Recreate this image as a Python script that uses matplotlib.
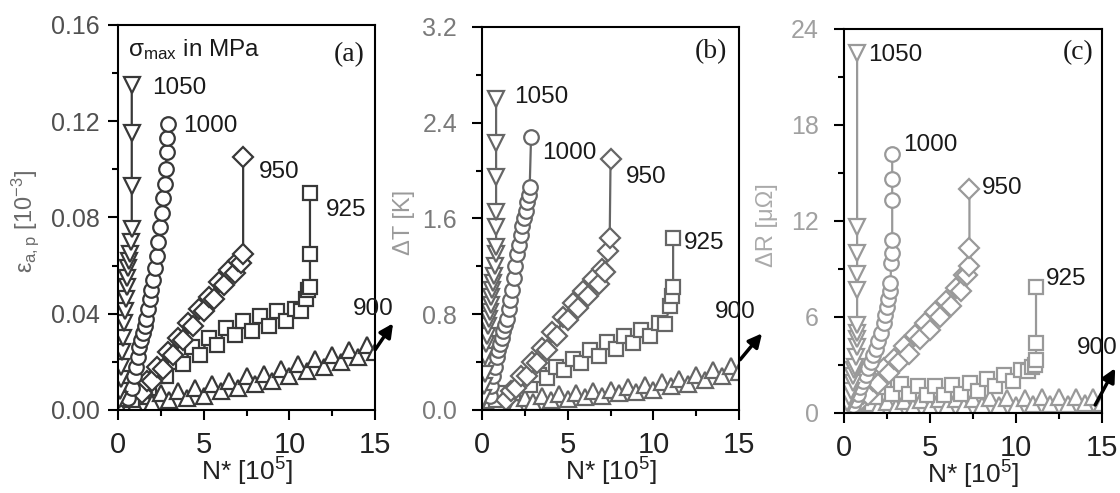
import matplotlib
matplotlib.use("Agg")
import matplotlib.pyplot as plt
from matplotlib.ticker import MultipleLocator, FormatStrFormatter

plt.rcParams['font.family'] = ['Liberation Sans', 'DejaVu Sans']
plt.rcParams['mathtext.fontset'] = 'custom'
plt.rcParams['mathtext.rm'] = 'Liberation Sans'
plt.rcParams['mathtext.it'] = 'Liberation Sans:italic'

# 公共的 900 MPa 载荷循环 N* [10^5]
n_900 = [0.0, 0.5, 1.0, 1.5, 2.0, 2.5, 3.0, 3.5, 4.0, 4.5, 5.0, 5.5, 6.0, 6.5, 7.0, 7.5,
         8.0, 8.5, 9.0, 9.5, 10.0, 10.5, 11.0, 11.5, 12.0, 12.5, 13.0, 13.5, 14.0, 14.5, 15.0, 15.5]

# (a) 塑性应变幅 eps_a,p [10^-3]
n1050_a = [0.05, 0.1, 0.15, 0.2, 0.25, 0.3, 0.35, 0.4, 0.45, 0.5, 0.55, 0.6, 0.65, 0.7, 0.75, 0.8, 0.8, 0.8, 0.8]
e1050_a = [0.004, 0.008, 0.013, 0.018, 0.024, 0.030, 0.036, 0.041, 0.046, 0.051, 0.055, 0.059, 0.062, 0.065,
           0.070, 0.075, 0.093, 0.115, 0.135]
n1000_a = [0.6, 0.8, 0.95, 1.05, 1.15, 1.25, 1.35, 1.45, 1.55, 1.65, 1.75, 1.85, 1.95, 2.05, 2.15, 2.25, 2.35,
           2.45, 2.55, 2.65, 2.72, 2.78, 2.84, 2.88, 2.92]
e1000_a = [0.005, 0.009, 0.014, 0.018, 0.022, 0.026, 0.029, 0.032, 0.035, 0.038, 0.042, 0.046, 0.050, 0.054,
           0.059, 0.064, 0.070, 0.076, 0.082, 0.088, 0.094, 0.100, 0.107, 0.113, 0.119]
n950_a = [1.4, 1.7, 2.0, 2.3, 2.6, 2.9, 3.2, 3.5, 3.8, 4.1, 4.4, 4.7, 5.0, 5.3, 5.6, 5.9, 6.2, 6.5, 6.8, 7.0,
          7.15, 7.3, 7.3]
e950_a = [0.007, 0.012, 0.012, 0.018, 0.017, 0.024, 0.023, 0.030, 0.029, 0.036, 0.035, 0.042, 0.041, 0.047,
          0.046, 0.053, 0.052, 0.058, 0.057, 0.062, 0.061, 0.065, 0.105]
n925_a = [0.8, 1.3, 1.8, 2.3, 2.8, 3.3, 3.8, 4.3, 4.8, 5.3, 5.8, 6.3, 6.8, 7.3, 7.8, 8.3, 8.8, 9.3, 9.8, 10.3,
          10.7, 10.95, 11.1, 11.2, 11.2, 11.2]
e925_a = [0.004, 0.008, 0.009, 0.014, 0.014, 0.020, 0.019, 0.026, 0.023, 0.030, 0.027, 0.034, 0.031, 0.037,
          0.033, 0.039, 0.035, 0.041, 0.037, 0.042, 0.041, 0.046, 0.050, 0.051, 0.065, 0.090]
e900_a = [0.002, 0.005, 0.002, 0.006, 0.003, 0.007, 0.004, 0.008, 0.005, 0.009, 0.006, 0.011, 0.008, 0.012,
          0.009, 0.014, 0.011, 0.015, 0.012, 0.017, 0.014, 0.019, 0.016, 0.021, 0.018, 0.023, 0.020, 0.025,
          0.022, 0.027, 0.024, 0.029]

# (b) 温升 dT [K]
n1050_b = [0.05, 0.1, 0.15, 0.2, 0.25, 0.3, 0.35, 0.4, 0.45, 0.5, 0.55, 0.6, 0.65, 0.7, 0.75, 0.8,
           0.82, 0.82, 0.82, 0.82, 0.82, 0.82]
t1050_b = [0.10, 0.20, 0.30, 0.45, 0.55, 0.62, 0.70, 0.76, 0.82, 0.88, 0.94, 1.00, 1.06, 1.12, 1.20, 1.30,
           1.36, 1.53, 1.65, 1.95, 2.23, 2.60]
n1000_b = [0.45, 0.55, 0.65, 0.75, 0.85, 0.95, 1.05, 1.15, 1.25, 1.35, 1.45, 1.55, 1.65, 1.75, 1.85, 1.95,
           2.05, 2.15, 2.25, 2.35, 2.45, 2.55, 2.65, 2.72, 2.78, 2.86]
t1000_b = [0.12, 0.20, 0.28, 0.36, 0.44, 0.50, 0.55, 0.60, 0.66, 0.71, 0.76, 0.84, 0.92, 1.00, 1.10, 1.20,
           1.30, 1.38, 1.46, 1.54, 1.60, 1.66, 1.74, 1.80, 1.86, 2.28]
n950_b = [1.4, 1.7, 2.0, 2.3, 2.6, 2.9, 3.2, 3.5, 3.8, 4.1, 4.4, 4.7, 5.0, 5.3, 5.6, 5.9, 6.2, 6.5, 6.8, 7.0,
          7.2, 7.35, 7.45, 7.5]
t950_b = [0.08, 0.16, 0.18, 0.28, 0.28, 0.40, 0.39, 0.52, 0.50, 0.65, 0.62, 0.78, 0.75, 0.89, 0.85, 0.99,
          0.95, 1.09, 1.05, 1.18, 1.15, 1.33, 1.44, 2.10]
n925_b = [0.8, 1.3, 1.8, 2.3, 2.8, 3.3, 3.8, 4.3, 4.8, 5.3, 5.8, 6.3, 6.8, 7.3, 7.8, 8.3, 8.8, 9.3, 9.8, 10.3,
          10.7, 10.95, 11.1, 11.15, 11.15]
t925_b = [0.08, 0.14, 0.14, 0.22, 0.21, 0.29, 0.27, 0.36, 0.33, 0.43, 0.39, 0.50, 0.45, 0.57, 0.51, 0.62,
          0.56, 0.67, 0.62, 0.73, 0.72, 0.87, 0.95, 1.03, 1.44]
t900_b = [0.03, 0.08, 0.04, 0.09, 0.05, 0.10, 0.07, 0.12, 0.08, 0.13, 0.09, 0.14, 0.11, 0.16, 0.12, 0.17,
          0.14, 0.19, 0.15, 0.21, 0.17, 0.23, 0.20, 0.26, 0.22, 0.29, 0.25, 0.33, 0.28, 0.37, 0.32, 0.42]

# (c) 电阻变化 dR [uOhm]
n1050_c = [0.1, 0.2, 0.3, 0.4, 0.5, 0.55, 0.6, 0.65, 0.7, 0.73, 0.76, 0.76, 0.76, 0.76, 0.76, 0.76, 0.76, 0.76]
r1050_c = [0.3, 0.6, 1.0, 1.4, 1.9, 2.3, 2.7, 2.9, 3.5, 4.1, 4.6, 5.0, 5.5, 7.7, 8.7, 10.0, 11.6, 22.5]
n1000_c = [0.5, 0.65, 0.8, 0.95, 1.1, 1.25, 1.4, 1.55, 1.7, 1.85, 2.0, 2.15, 2.3, 2.4, 2.5, 2.58, 2.65, 2.7,
           2.74, 2.77, 2.8, 2.8, 2.8, 2.8]
r1000_c = [0.5, 0.8, 1.2, 1.6, 2.0, 2.4, 2.8, 3.2, 3.6, 4.0, 4.5, 5.0, 5.6, 6.1, 6.6, 7.1, 7.6, 8.1, 9.4,
           10.0, 10.8, 13.3, 14.6, 16.2]
n950_c = [0.8, 1.1, 1.4, 1.7, 2.0, 2.3, 2.6, 2.9, 3.2, 3.5, 3.8, 4.1, 4.4, 4.7, 5.0, 5.3, 5.6, 5.9, 6.2, 6.5,
          6.8, 7.0, 7.15, 7.25, 7.29, 7.29]
r950_c = [0.6, 1.2, 1.1, 2.0, 1.8, 2.8, 2.5, 3.4, 3.2, 4.2, 3.7, 4.9, 4.6, 5.6, 5.2, 6.3, 6.0, 7.0, 6.7, 7.8,
          7.6, 8.6, 8.6, 9.2, 10.3, 14.0]
n925_c = [0.8, 1.3, 1.8, 2.3, 2.8, 3.3, 3.8, 4.3, 4.8, 5.3, 5.8, 6.3, 6.8, 7.3, 7.8, 8.3, 8.8, 9.3, 9.8, 10.3,
          10.7, 10.95, 11.1, 11.16, 11.16, 11.16]
r925_c = [0.7, 1.2, 1.0, 1.6, 1.2, 1.8, 1.2, 1.7, 1.1, 1.7, 1.1, 1.75, 1.2, 1.9, 1.4, 2.1, 1.7, 2.4, 2.0, 2.7,
          2.6, 2.9, 3.0, 3.3, 4.4, 7.9]
r900_c = [0.2, 0.6, 0.25, 0.65, 0.3, 0.7, 0.35, 0.75, 0.4, 0.8, 0.4, 0.85, 0.45, 0.9, 0.45, 0.9, 0.5, 0.95,
          0.5, 0.95, 0.5, 0.95, 0.55, 1.0, 0.55, 1.0, 0.55, 1.0, 0.6, 1.0, 0.6, 1.0]

stress_labels = ['1050', '1000', '950', '925', '900']
markers = ['v', 'o', 'D', 's', '^']
marker_sizes = [12, 10.5, 10, 10, 11]

# 标签位置 (N*, y)
label_pos_a = [(1.97, 0.134), (3.77, 0.118), (8.2, 0.099), (12.1, 0.083), (13.7, 0.042)]
label_pos_b = [(1.87, 2.615), (3.48, 2.15), (8.4, 1.95), (11.75, 1.395), (13.6, 0.82)]
label_pos_c = [(1.40, 22.4), (3.43, 16.75), (8.0, 14.05), (11.74, 8.4), (13.53, 4.05)]

panels = [
    dict(pos=[0.1054, 0.1684, 0.2295, 0.781], color='#383838', tickc='#505050', labc='#6a6a6a',
         series=[(n1050_a, e1050_a), (n1000_a, e1000_a), (n950_a, e950_a), (n925_a, e925_a), (n_900, e900_a)],
         ymax=0.16, ymaj=0.04, ymin=0.02, fmt='%.2f', ylabel=r'$\mathrm{\varepsilon_{a,p}}$ [10$^{\mathrm{-3}}$]',
         ylab_x=-0.30, tag='(a)', tag_pos=(12.6, 0.1475), lpos=label_pos_a,
         arrow=((15.0, 0.025), (16.05, 0.036)), pad=6),
    dict(pos=[0.4304, 0.1684, 0.2295, 0.777], color='#666666', tickc='#7a7a7a', labc='#9a9a9a',
         series=[(n1050_b, t1050_b), (n1000_b, t1000_b), (n950_b, t950_b), (n925_b, t925_b), (n_900, t900_b)],
         ymax=3.2, ymaj=0.8, ymin=0.4, fmt='%.1f', ylabel='ΔT [K]',
         ylab_x=-0.26, tag='(b)', tag_pos=(12.43, 2.99), lpos=label_pos_b,
         arrow=((15.06, 0.42), (16.34, 0.64)), pad=11),
    dict(pos=[0.7536, 0.1623, 0.2304, 0.779], color='#999999', tickc='#a0a0a0', labc='#aaaaaa',
         series=[(n1050_c, r1050_c), (n1000_c, r1000_c), (n950_c, r950_c), (n925_c, r925_c), (n_900, r900_c)],
         ymax=24, ymaj=6, ymin=3, fmt='%d', ylabel='ΔR [μΩ]',
         ylab_x=-0.256, tag='(c)', tag_pos=(12.71, 22.5), lpos=label_pos_c,
         arrow=((14.6, 0.5), (15.76, 2.8)), pad=11),
]

fig = plt.figure(figsize=(11.2, 4.93), dpi=100)

for k, p in enumerate(panels):
    ax = fig.add_axes(p['pos'])
    # 先画900，再依次叠加
    for (xs, ys), mk, ms in reversed(list(zip(p['series'], markers, marker_sizes))):
        ax.plot(xs, ys, color=p['color'], lw=1.6, marker=mk, ms=ms, mfc='white',
                mec=p['color'], mew=1.6)
    ax.set_xlim(0, 15)
    ax.set_ylim(0, p['ymax'])
    ax.xaxis.set_major_locator(MultipleLocator(5))
    ax.xaxis.set_minor_locator(MultipleLocator(2.5))
    ax.yaxis.set_major_locator(MultipleLocator(p['ymaj']))
    ax.yaxis.set_minor_locator(MultipleLocator(p['ymin']))
    ax.yaxis.set_major_formatter(FormatStrFormatter(p['fmt']))
    ax.tick_params(which='both', direction='out', width=1.5)
    ax.tick_params(which='major', length=7)
    ax.tick_params(which='minor', length=4)
    ax.tick_params(axis='x', labelsize=21, labelcolor='#222222', pad=8)
    ax.tick_params(axis='y', labelsize=18, labelcolor=p['tickc'], pad=p['pad'])
    for s in ax.spines.values():
        s.set_linewidth(1.5)
    ax.set_xlabel(r'N* [10$^{\mathrm{5}}$]', fontsize=19, color='#222222')
    ax.xaxis.set_label_coords(0.5, -0.12)
    ax.set_ylabel(p['ylabel'], fontsize=17, color=p['labc'])
    ax.yaxis.set_label_coords(p['ylab_x'], 0.49)
    for lab, (lx, ly) in zip(stress_labels, p['lpos']):
        ax.text(lx, ly, lab, fontsize=17.5, color='#1a1a1a', ha='left', va='center', clip_on=False)
    ax.text(p['tag_pos'][0], p['tag_pos'][1], p['tag'], fontsize=20, family='Liberation Serif',
            color='#1a1a1a', ha='left', va='center')
    (x0, y0), (x1, y1) = p['arrow']
    ax.annotate('', xy=(x1, y1), xytext=(x0, y0), annotation_clip=False,
                arrowprops=dict(arrowstyle='-|>', color='black', lw=2.5, mutation_scale=20,
                                shrinkA=0, shrinkB=0))
    if k == 0:
        ax.text(0.6, 0.1496, r'$\mathrm{\sigma_{max}}$ in MPa', fontsize=17.5, color='#1a1a1a',
                ha='left', va='center')

fig.savefig('out.png', dpi=100)
